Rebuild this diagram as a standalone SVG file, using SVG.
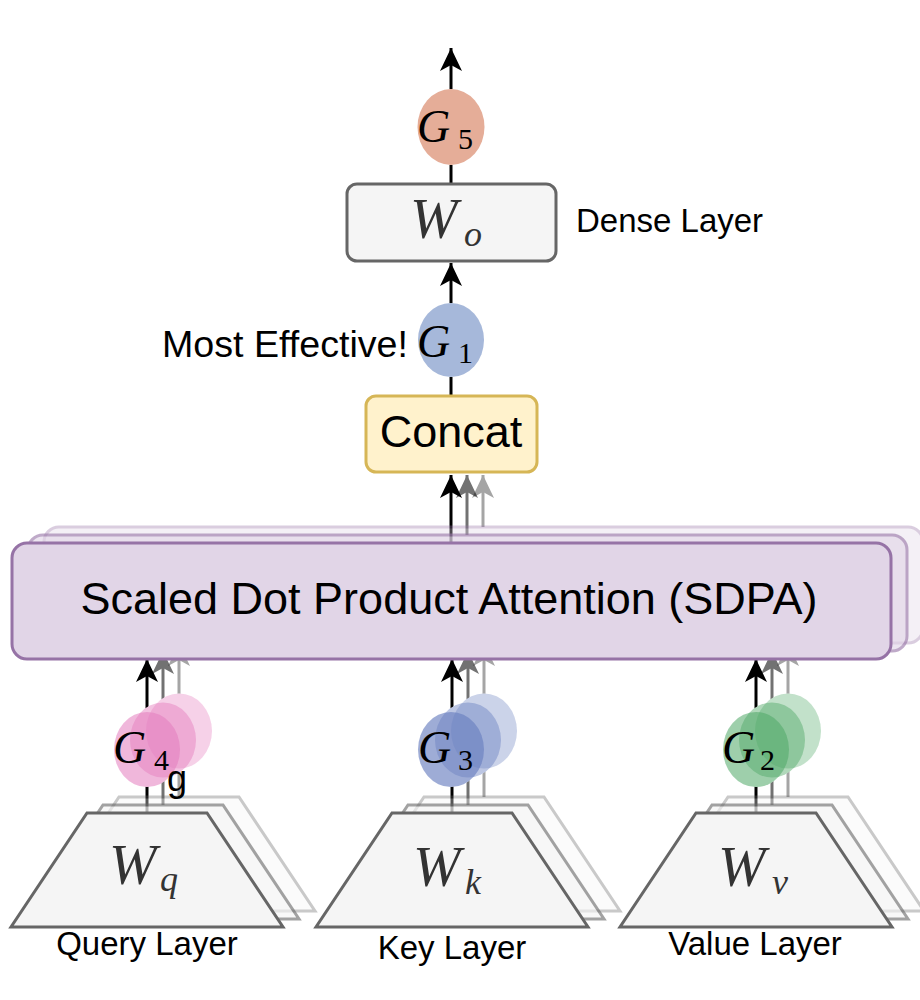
<svg xmlns="http://www.w3.org/2000/svg" width="920" height="1000" viewBox="0 0 920 1000">
<defs>
<style>
.lbl{font-family:"Liberation Sans",Arial,sans-serif;fill:#000}
.math{font-family:"Liberation Serif","Times New Roman",serif;font-style:italic;fill:#000}
.num{font-family:"Liberation Serif","Times New Roman",serif;fill:#000}
.wt{font-family:"Liberation Serif","Times New Roman",serif;font-style:italic;fill:#333}
.ln{stroke:#000;stroke-width:3;fill:none}
.arr{stroke:#000;stroke-width:3;fill:none;marker-end:url(#ah)}
.trap{fill:#f5f5f5;stroke:#666;stroke-width:3}
.sdpa{fill:#e1d5e7;stroke:#9673a6;stroke-width:3}
.wh{fill:#fff}
</style>
<marker id="ah" markerUnits="userSpaceOnUse" markerWidth="24" markerHeight="24" viewBox="0 0 24 24" refX="23" refY="12" orient="auto">
<path d="M0,1 L23,12 L0,23 L6,12 z" fill="#000"/>
</marker>
</defs>
<rect width="920" height="1000" fill="#fff"/>

<g id="connectors">
<line class="arr" x1="451" y1="89" x2="451" y2="48"/>
<line class="ln" x1="451" y1="184" x2="451" y2="165"/>
<line class="arr" x1="451" y1="303" x2="451" y2="263"/>
<line class="ln" x1="451" y1="396" x2="451" y2="377"/>
<line class="arr" x1="451" y1="543" x2="451" y2="475"/>
<line class="arr" x1="467" y1="535" x2="467" y2="475" opacity="0.55"/>
<line class="arr" x1="483" y1="527" x2="483" y2="475" opacity="0.35"/>
<line class="arr" x1="147" y1="813" x2="147" y2="659"/>
<line class="arr" x1="163" y1="805" x2="163" y2="651" opacity="0.55"/>
<line class="arr" x1="179" y1="797" x2="179" y2="643" opacity="0.35"/>
<line class="arr" x1="452" y1="813" x2="452" y2="659"/>
<line class="arr" x1="468" y1="805" x2="468" y2="651" opacity="0.55"/>
<line class="arr" x1="484" y1="797" x2="484" y2="643" opacity="0.35"/>
<line class="arr" x1="756" y1="813" x2="756" y2="659"/>
<line class="arr" x1="772" y1="805" x2="772" y2="651" opacity="0.55"/>
<line class="arr" x1="788" y1="797" x2="788" y2="643" opacity="0.35"/>
</g>

<g id="sdpa">
<rect class="sdpa" x="44" y="527" width="879" height="116" rx="15" opacity="0.35"/>
<rect class="sdpa" x="28" y="535" width="879" height="116" rx="15" opacity="0.6"/>
<rect class="sdpa" x="12" y="543" width="879" height="116" rx="15"/>
<text class="lbl" x="449" y="614" font-size="45" text-anchor="middle">Scaled Dot Product Attention (SDPA)</text>
</g>

<g id="concat">
<rect x="366" y="396" width="171" height="76" rx="10" fill="#fff2cc" stroke="#d6b656" stroke-width="3"/>
<text class="lbl" x="451" y="447" font-size="45" text-anchor="middle">Concat</text>
</g>

<g id="g1">
<ellipse cx="451" cy="340" rx="33" ry="37" fill="#a6b8da"/>
<text class="math" x="417" y="357" font-size="46">G</text>
<text class="num" x="458" y="363" font-size="30">1</text>
</g>
<text class="lbl" x="162" y="357" font-size="36" textLength="246" lengthAdjust="spacingAndGlyphs">Most Effective!</text>

<g id="wo">
<rect x="347" y="184" width="209" height="77" rx="10" fill="#f5f5f5" stroke="#666" stroke-width="3"/>
<text class="wt" x="410" y="238" font-size="57">W</text>
<text class="wt" x="464" y="246" font-size="36">o</text>
</g>
<text class="lbl" x="576" y="232" font-size="33">Dense Layer</text>

<g id="g5">
<ellipse cx="451" cy="127" rx="33.5" ry="38" fill="#e5ad98"/>
<text class="math" x="417" y="142" font-size="46">G</text>
<text class="num" x="458" y="149" font-size="30">5</text>
</g>

<g id="query">
<polygon class="trap" points="-28,-16 92,-16 168,98 -104,98" transform="translate(147,813)" opacity="0.35"/>
<polygon class="trap" points="-44,-8 76,-8 152,106 -120,106" transform="translate(147,813)" opacity="0.6"/>
<polygon class="trap" points="-60,0 60,0 136,114 -136,114" transform="translate(147,813)"/>
<text class="wt" x="109" y="884" font-size="57">W</text>
<text class="wt" x="160" y="891" font-size="36">q</text>
<text class="lbl" x="147" y="955" font-size="33" text-anchor="middle">Query Layer</text>
</g>

<g id="key">
<polygon class="trap" points="-28,-16 92,-16 168,98 -104,98" transform="translate(452,813)" opacity="0.35"/>
<polygon class="trap" points="-44,-8 76,-8 152,106 -120,106" transform="translate(452,813)" opacity="0.6"/>
<polygon class="trap" points="-60,0 60,0 136,114 -136,114" transform="translate(452,813)"/>
<text class="wt" x="413" y="886" font-size="57">W</text>
<text class="wt" x="465" y="894" font-size="36">k</text>
<text class="lbl" x="452" y="959" font-size="33" text-anchor="middle">Key Layer</text>
</g>

<g id="value">
<polygon class="trap" points="-28,-16 92,-16 168,98 -104,98" transform="translate(756,813)" opacity="0.35"/>
<polygon class="trap" points="-44,-8 76,-8 152,106 -120,106" transform="translate(756,813)" opacity="0.6"/>
<polygon class="trap" points="-60,0 60,0 136,114 -136,114" transform="translate(756,813)"/>
<text class="wt" x="718" y="886" font-size="57">W</text>
<text class="wt" x="772" y="894" font-size="36">v</text>
<text class="lbl" x="755" y="955" font-size="33" text-anchor="middle">Value Layer</text>
</g>

<g id="g4">
<ellipse class="wh" cx="179" cy="731" rx="33" ry="37.5"/>
<ellipse class="wh" cx="163" cy="740" rx="33" ry="37.5"/>
<ellipse class="wh" cx="147" cy="749.5" rx="33" ry="37.5"/>
<ellipse cx="179" cy="731" rx="33" ry="37.5" fill="#e47bbd" opacity="0.35"/>
<ellipse cx="163" cy="740" rx="33" ry="37.5" fill="#e47bbd" opacity="0.45"/>
<ellipse cx="147" cy="749.5" rx="33" ry="37.5" fill="#e47bbd" opacity="0.55"/>
<text class="math" x="113" y="763" font-size="46">G</text>
<text class="num" x="154" y="770" font-size="30">4</text>
</g>
<text class="lbl" x="167" y="791" font-size="36">g</text>

<g id="g3">
<ellipse class="wh" cx="484" cy="731" rx="33" ry="37.5"/>
<ellipse class="wh" cx="468" cy="740" rx="33" ry="37.5"/>
<ellipse class="wh" cx="451" cy="749.5" rx="33" ry="37.5"/>
<ellipse cx="484" cy="731" rx="33" ry="37.5" fill="#6a80c0" opacity="0.35"/>
<ellipse cx="468" cy="740" rx="33" ry="37.5" fill="#6a80c0" opacity="0.45"/>
<ellipse cx="451" cy="749.5" rx="33" ry="37.5" fill="#6a80c0" opacity="0.65"/>
<text class="math" x="418" y="763" font-size="46">G</text>
<text class="num" x="458" y="770" font-size="30">3</text>
</g>

<g id="g2">
<ellipse class="wh" cx="788" cy="731" rx="33" ry="37.5"/>
<ellipse class="wh" cx="772" cy="740" rx="33" ry="37.5"/>
<ellipse class="wh" cx="756" cy="749.5" rx="33" ry="37.5"/>
<ellipse cx="788" cy="731" rx="33" ry="37.5" fill="#4fa866" opacity="0.35"/>
<ellipse cx="772" cy="740" rx="33" ry="37.5" fill="#4fa866" opacity="0.45"/>
<ellipse cx="756" cy="749.5" rx="33" ry="37.5" fill="#4fa866" opacity="0.55"/>
<text class="math" x="722" y="763" font-size="46">G</text>
<text class="num" x="760" y="770" font-size="30">2</text>
</g>
</svg>
